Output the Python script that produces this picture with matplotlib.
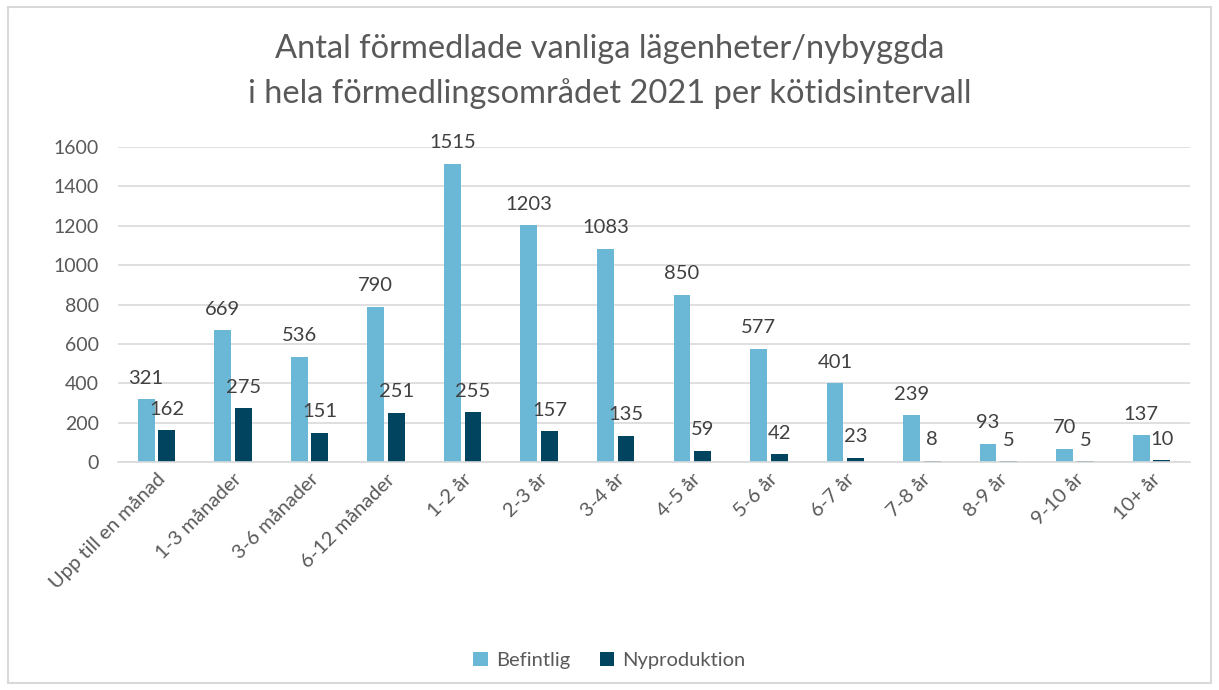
import matplotlib.pyplot as plt
import numpy as np
from matplotlib.patches import Rectangle

categories = ["Upp till en månad", "1-3 månader", "3-6 månader", "6-12 månader",
              "1-2 år", "2-3 år", "3-4 år", "4-5 år", "5-6 år", "6-7 år",
              "7-8 år", "8-9 år", "9-10 år", "10+ år"]
befintlig = [321, 669, 536, 790, 1515, 1203, 1083, 850, 577, 401, 239, 93, 70, 137]
nyproduktion = [162, 275, 151, 251, 255, 157, 135, 59, 42, 23, 8, 5, 5, 10]

plt.rcParams["font.family"] = ["Lato", "DejaVu Sans"]
text_col = "#595959"

fig = plt.figure(figsize=(12.19, 6.90), dpi=100)
fig.patches.append(Rectangle((8 / 1219, 1 - 683 / 690), 1203 / 1219, 676 / 690,
                             transform=fig.transFigure, fill=False,
                             edgecolor="#D9D9D9", linewidth=1.5))
ax = fig.add_axes([0.097, 0.330, 0.879, 0.457])

x = np.arange(len(categories))
w = 0.22
gap = 0.05
b1 = ax.bar(x - (w + gap) / 2, befintlig, w, color="#6BB8D6", label="Befintlig")
b2 = ax.bar(x + (w + gap) / 2, nyproduktion, w, color="#00445F", label="Nyproduktion")

for rects in (b1, b2):
    for r in rects:
        ax.annotate(f"{int(r.get_height())}",
                    (r.get_x() + r.get_width() / 2, r.get_height()),
                    xytext=(0, 9), textcoords="offset points",
                    ha="center", va="bottom", fontsize=14.5, color="#404040")

ax.set_xlim(-0.5, len(categories) - 0.5)
ax.set_ylim(0, 1600)
ax.set_yticks(range(0, 1601, 200))
ax.yaxis.grid(True, color="#D9D9D9", linewidth=1.2)
ax.set_axisbelow(True)
for s in ["top", "right", "left"]:
    ax.spines[s].set_visible(False)
ax.spines["bottom"].set_color("#D9D9D9")
ax.spines["bottom"].set_linewidth(1.2)
ax.tick_params(axis="y", length=0, labelsize=14, labelcolor=text_col, pad=14)
ax.tick_params(axis="x", length=0, labelsize=14.5, labelcolor=text_col, pad=6)
ax.set_xticks(x)
ax.set_xticklabels(categories, rotation=45, ha="right", rotation_mode="anchor")

fig.suptitle("Antal förmedlade vanliga lägenheter/nybyggda\n"
             "i hela förmedlingsområdet 2021 per kötidsintervall",
             y=0.95, fontsize=23.5, color=text_col, linespacing=1.55)

fig.legend(handles=[b1, b2], loc="center", bbox_to_anchor=(0.5, 0.043), ncol=2,
           frameon=False, fontsize=14.5, labelcolor=text_col,
           handlelength=0.7, handleheight=0.7, handletextpad=0.4, columnspacing=1.5)

fig.savefig("out.png", dpi=100)
